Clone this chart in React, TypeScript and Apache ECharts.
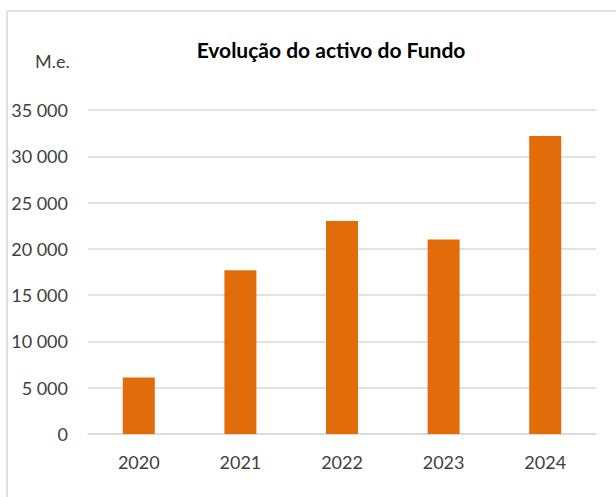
import React, { useEffect, useRef } from "react";
import * as echarts from "echarts";

const categories = ["2020", "2021", "2022", "2023", "2024"];
const values = [6100, 17700, 23000, 21000, 32200];
const yTicks = [0, 5000, 10000, 15000, 20000, 25000, 30000, 35000];
const titleText = "Evolução do activo do Fundo";
const unitText = "M.e.";

const fmt = (v: number) =>
  String(v).replace(/\B(?=(\d{3})+(?!\d))/g, " ");

export default function App() {
  const ref = useRef<HTMLDivElement>(null);
  useEffect(() => {
    if (!ref.current) return;
    const chart = echarts.init(ref.current, null, { renderer: "svg" });
    const font = "Lato, 'Open Sans', sans-serif";
    chart.setOption({
      animation: false,
      backgroundColor: "#ffffff",
      title: {
        text: titleText,
        left: 326,
        textAlign: "center",
        top: 34,
        textStyle: { fontFamily: font, fontSize: 21, fontWeight: "bold", color: "#000000" },
      },
      graphic: [
        { type: "line", shape: { x1: 7, y1: 11, x2: 616, y2: 11 }, style: { stroke: "#d9d9d9", lineWidth: 1.5 } },
        { type: "line", shape: { x1: 7, y1: 11, x2: 7, y2: 497 }, style: { stroke: "#d9d9d9", lineWidth: 1.5 } },
        {
          type: "text",
          left: 35,
          top: 52,
          style: { text: unitText, fontFamily: font, fontSize: 18, fill: "#404040" },
        },
      ],
      grid: { left: 88, right: 20, top: 110, bottom: 63 },
      xAxis: {
        type: "category",
        data: categories,
        axisTick: { show: false },
        axisLine: { lineStyle: { color: "#d9d9d9", width: 1.5 } },
        axisLabel: { margin: 19, fontFamily: font, fontSize: 18, color: "#404040" },
      },
      yAxis: {
        type: "value",
        min: yTicks[0],
        max: yTicks[yTicks.length - 1],
        interval: yTicks[1] - yTicks[0],
        axisLine: { show: false },
        axisTick: { show: false },
        splitLine: { lineStyle: { color: "#d9d9d9", width: 1.5 } },
        axisLabel: { margin: 20, fontFamily: font, fontSize: 18, color: "#404040", formatter: (v: number) => fmt(v) },
      },
      series: [
        {
          type: "bar",
          data: values,
          barWidth: 32,
          itemStyle: { color: "#e36c0a" },
        },
      ],
    });
    return () => chart.dispose();
  }, []);
  return (
    <div
      ref={ref}
      style={{ position: "fixed", left: 0, top: 0, width: 616, height: 497 }}
    />
  );
}
